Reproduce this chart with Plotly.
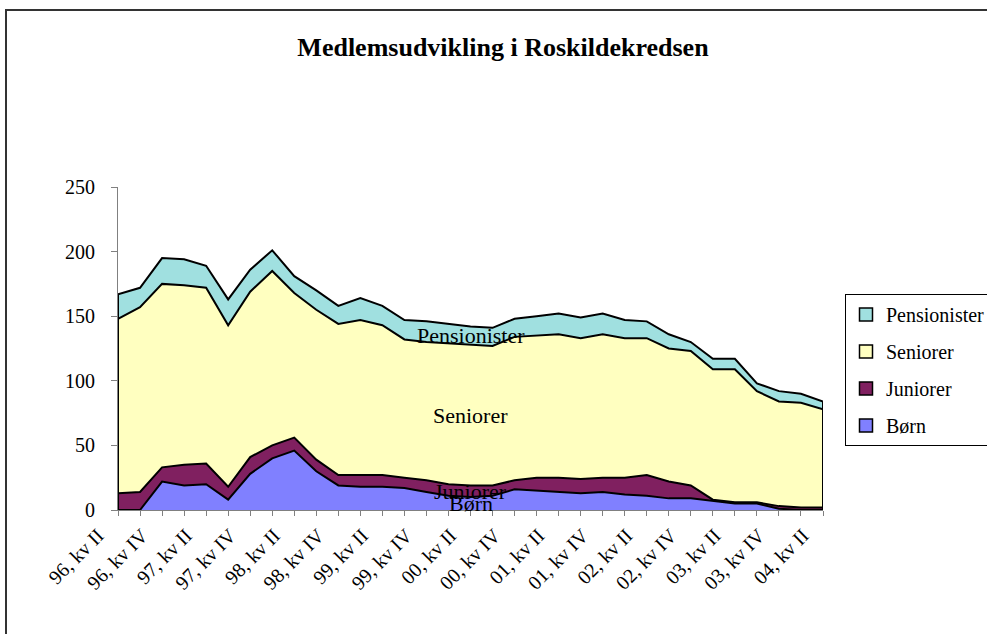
import plotly.graph_objects as go

quarters = [
    "96, kv II", "96, kv III", "96, kv IV",
    "97, kv I", "97, kv II", "97, kv III", "97, kv IV",
    "98, kv I", "98, kv II", "98, kv III", "98, kv IV",
    "99, kv I", "99, kv II", "99, kv III", "99, kv IV",
    "00, kv I", "00, kv II", "00, kv III", "00, kv IV",
    "01, kv I", "01, kv II", "01, kv III", "01, kv IV",
    "02, kv I", "02, kv II", "02, kv III", "02, kv IV",
    "03, kv I", "03, kv II", "03, kv III", "03, kv IV",
    "04, kv I", "04, kv II",
]

born = [0, 0, 22, 19, 20, 8, 28, 40, 46, 30, 19, 18, 18, 17, 14, 11, 10,
        11, 16, 15, 14, 13, 14, 12, 11, 9, 9, 7, 5, 5, 1, 0, 0]
juniorer = [13, 14, 11, 16, 16, 10, 13, 10, 10, 9, 8, 9, 9, 8, 9, 9, 9,
            8, 7, 10, 11, 11, 11, 13, 16, 13, 10, 1, 1, 1, 2, 2, 2]
seniorer = [135, 143, 142, 139, 136, 125, 128, 135, 112, 116, 117, 120, 116,
            107, 107, 109, 109, 108, 111, 110, 111, 109, 111, 108, 106, 103,
            104, 101, 103, 86, 81, 81, 76]
pensionister = [19, 15, 20, 20, 17, 20, 17, 16, 13, 15, 14, 17, 15, 15, 16,
                15, 14, 14, 14, 15, 16, 16, 16, 14, 13, 11, 7, 8, 8, 6, 8, 7, 6]

series_names = ["Børn", "Juniorer", "Seniorer", "Pensionister"]
series_values = [born, juniorer, seniorer, pensionister]
series_colors = ["#8080FF", "#802060", "#FFFFC0", "#A0E0E0"]

title_text = "Medlemsudvikling i Roskildekredsen"
label_index = 16

FONT = "Liberation Serif, Times New Roman, serif"

fig = go.Figure()
for name, vals, col in zip(series_names, series_values, series_colors):
    fig.add_trace(go.Scatter(
        x=quarters, y=vals, name=name, mode="lines",
        stackgroup="one", fillcolor=col,
        line=dict(color="black", width=2),
        showlegend=False,
    ))

# vertical edges of the stacked area at both ends
totals = [sum(v) for v in zip(*series_values)]
for idx in (0, len(quarters) - 1):
    fig.add_trace(go.Scatter(
        x=[quarters[idx], quarters[idx]], y=[0, totals[idx]],
        mode="lines", line=dict(color="black", width=2),
        showlegend=False, hoverinfo="skip",
    ))

# legend entries (square swatches), top to bottom
for name, col in reversed(list(zip(series_names, series_colors))):
    fig.add_trace(go.Scatter(
        x=[None], y=[None], mode="markers", name=name,
        marker=dict(symbol="square", size=13, color=col,
                    line=dict(color="black", width=1.5)),
        legendgroup=name, showlegend=True,
    ))

# in-band data labels at the middle of each band
annotations = []
cum = 0
for name, vals in zip(series_names, series_values):
    v = vals[label_index]
    annotations.append(dict(
        x=quarters[label_index], y=cum + v / 2, xref="x", yref="y",
        text=name, showarrow=False,
        font=dict(family=FONT, size=22, color="black"),
    ))
    cum += v

ticktext = [q if i % 2 == 0 else "" for i, q in enumerate(quarters)]

fig.update_layout(
    width=987, height=634, autosize=False,
    margin=dict(l=118, r=164, t=187, b=124, autoexpand=False),
    paper_bgcolor="white", plot_bgcolor="white",
    font=dict(family=FONT, size=19, color="black"),
    title=dict(
        text="<b>" + title_text + "</b>",
        x=(503 - 118) / 705, xref="paper", xanchor="center",
        y=1 - 47 / 634, yref="container", yanchor="middle",
        font=dict(family=FONT, size=26, color="black"),
    ),
    xaxis=dict(
        type="category", range=[0, len(quarters) - 1],
        tickmode="array", tickvals=quarters, ticktext=ticktext,
        tickangle=-45, ticks="outside", ticklen=5, tickcolor="#808080",
        ticklabelshift=-20, ticklabelstandoff=0,
        showline=True, linecolor="#808080", linewidth=1,
        showgrid=False, zeroline=False, automargin=False,
        tickfont=dict(family=FONT, size=20, color="black"),
    ),
    yaxis=dict(
        range=[0, 250], dtick=50, ticks="outside", ticklen=6,
        tickcolor="#808080", showline=True, linecolor="#808080", linewidth=1,
        ticklabelstandoff=12,
        showgrid=False, zeroline=False, automargin=False,
        tickfont=dict(family=FONT, size=20, color="black"),
    ),
    legend=dict(
        x=(845 - 118) / 705, xanchor="left", y=(510 - 294) / 323, yanchor="top",
        traceorder="grouped", tracegroupgap=8, itemwidth=30,
        bordercolor="black", borderwidth=1, bgcolor="white",
        font=dict(family=FONT, size=20, color="black"),
    ),
    annotations=annotations,
    shapes=[dict(
        type="rect", xref="paper", yref="paper",
        x0=(6 - 118) / 705, x1=1.3, y0=-0.5, y1=(510 - 10) / 323,
        line=dict(color="#333333", width=2), fillcolor="rgba(0,0,0,0)",
    )],
    showlegend=True,
)

fig.write_html(
    "out.html",
    config={"displayModeBar": False, "responsive": False},
    post_script="document.body.style.margin='0px';document.body.style.overflow='hidden';",
)
